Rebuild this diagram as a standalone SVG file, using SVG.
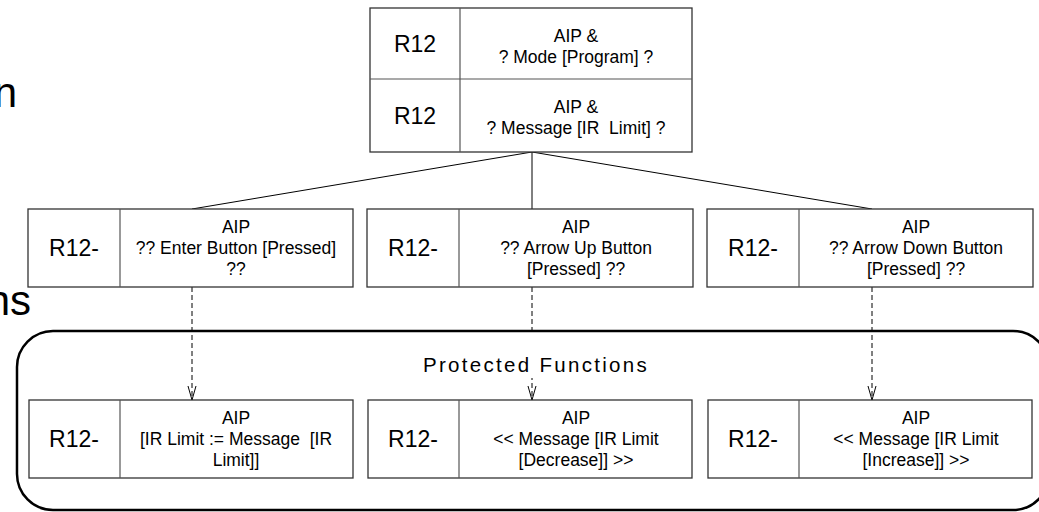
<svg xmlns="http://www.w3.org/2000/svg" width="1039" height="512" viewBox="0 0 1039 512">
  <style>
    .box { fill: #ffffff; stroke: #333333; stroke-width: 1.3; }
    .div { stroke: #555555; stroke-width: 1.2; fill: none; }
    .id { font-family: "Liberation Sans", Arial, sans-serif; font-size: 23px; fill: #000; text-anchor: middle; }
    .lbl { font-family: "Liberation Sans", Arial, sans-serif; font-size: 17.5px; fill: #000; text-anchor: middle; }
    .big { font-family: "Liberation Sans", Arial, sans-serif; font-size: 42px; fill: #000; text-anchor: end; }
    .title { font-family: "Liberation Sans", Arial, sans-serif; font-size: 20.5px; letter-spacing: 2.3px; fill: #000; text-anchor: middle; }
    .solid { stroke: #000; stroke-width: 1; fill: none; }
    .dash { stroke: #000; stroke-width: 1; fill: none; stroke-dasharray: 5 3; }
  </style>
  <defs>
    <!-- open V arrowhead, drawn along +x so orient="auto" follows the line -->
    <marker id="openArrow" viewBox="0 0 14 10" refX="14" refY="5" markerWidth="14" markerHeight="10" markerUnits="userSpaceOnUse" orient="auto">
      <path d="M0,1 L14,5 L0,9" fill="none" stroke="#000" stroke-width="1"/>
    </marker>
  </defs>

  <!-- clipped slide text at the left edge -->
  <text class="big" x="17" y="107">n</text>
  <text class="big" x="31" y="315">ns</text>

  <!-- protected-functions container -->
  <g id="protected-functions">
    <rect x="17" y="331" width="1032" height="179" rx="36" ry="36" fill="none" stroke="#000" stroke-width="2.5"/>
  </g>

  <!-- connectors -->
  <g id="connectors">
    <line class="solid" x1="532" y1="152" x2="192" y2="209"/>
    <line class="solid" x1="532" y1="152" x2="532" y2="209"/>
    <line class="solid" x1="532" y1="152" x2="872" y2="209"/>
    <line class="dash" x1="192" y1="287" x2="192" y2="400" marker-end="url(#openArrow)"/>
    <line class="dash" x1="532" y1="287" x2="532" y2="400" marker-end="url(#openArrow)"/>
    <line class="dash" x1="872" y1="287" x2="872" y2="400" marker-end="url(#openArrow)"/>
  </g>

  <!-- container title, masking the dashed line behind it -->
  <g id="container-title">
    <rect x="415" y="334" width="240" height="44" fill="#ffffff"/>
    <text class="title" x="536" y="372">Protected Functions</text>
  </g>

  <!-- top node: two rows -->
  <g id="node-top">
    <rect class="box" x="370" y="8" width="322" height="144"/>
    <line class="div" x1="460" y1="8" x2="460" y2="152"/>
    <line class="div" x1="370" y1="79" x2="692" y2="79"/>
    <text class="id" x="415" y="52">R12</text>
    <text class="lbl" x="576" y="42">AIP &amp;</text>
    <text class="lbl" x="576" y="63">? Mode [Program] ?</text>
    <text class="id" x="415" y="124">R12</text>
    <text class="lbl" x="576" y="113">AIP &amp;</text>
    <text class="lbl" x="576" y="134" xml:space="preserve">? Message [IR  Limit] ?</text>
  </g>

  <!-- button nodes -->
  <g id="node-enter">
    <rect class="box" x="28" y="209" width="325" height="78"/>
    <line class="div" x1="120" y1="209" x2="120" y2="287"/>
    <text class="id" x="74" y="256">R12-</text>
    <text class="lbl" x="236" y="233">AIP</text>
    <text class="lbl" x="236" y="254">?? Enter Button [Pressed]</text>
    <text class="lbl" x="236" y="275">??</text>
  </g>
  <g id="node-arrow-up">
    <rect class="box" x="367" y="209" width="326" height="78"/>
    <line class="div" x1="459" y1="209" x2="459" y2="287"/>
    <text class="id" x="413" y="256">R12-</text>
    <text class="lbl" x="576" y="233">AIP</text>
    <text class="lbl" x="576" y="254">?? Arrow Up Button</text>
    <text class="lbl" x="576" y="275">[Pressed] ??</text>
  </g>
  <g id="node-arrow-down">
    <rect class="box" x="707" y="209" width="326" height="78"/>
    <line class="div" x1="799" y1="209" x2="799" y2="287"/>
    <text class="id" x="753" y="256">R12-</text>
    <text class="lbl" x="916" y="233">AIP</text>
    <text class="lbl" x="916" y="254">?? Arrow Down Button</text>
    <text class="lbl" x="916" y="275">[Pressed] ??</text>
  </g>

  <!-- protected function nodes -->
  <g id="node-set-limit">
    <rect class="box" x="29" y="400" width="324" height="78"/>
    <line class="div" x1="120" y1="400" x2="120" y2="478"/>
    <text class="id" x="74" y="447">R12-</text>
    <text class="lbl" x="236" y="424">AIP</text>
    <text class="lbl" x="236" y="445" xml:space="preserve">[IR Limit := Message  [IR</text>
    <text class="lbl" x="236" y="466">Limit]]</text>
  </g>
  <g id="node-decrease">
    <rect class="box" x="368" y="400" width="324" height="78"/>
    <line class="div" x1="459" y1="400" x2="459" y2="478"/>
    <text class="id" x="413" y="447">R12-</text>
    <text class="lbl" x="576" y="424">AIP</text>
    <text class="lbl" x="576" y="445">&lt;&lt; Message [IR Limit</text>
    <text class="lbl" x="576" y="466">[Decrease]] &gt;&gt;</text>
  </g>
  <g id="node-increase">
    <rect class="box" x="708" y="400" width="324" height="78"/>
    <line class="div" x1="799" y1="400" x2="799" y2="478"/>
    <text class="id" x="753" y="447">R12-</text>
    <text class="lbl" x="916" y="424">AIP</text>
    <text class="lbl" x="916" y="445">&lt;&lt; Message [IR Limit</text>
    <text class="lbl" x="916" y="466">[Increase]] &gt;&gt;</text>
  </g>
</svg>
